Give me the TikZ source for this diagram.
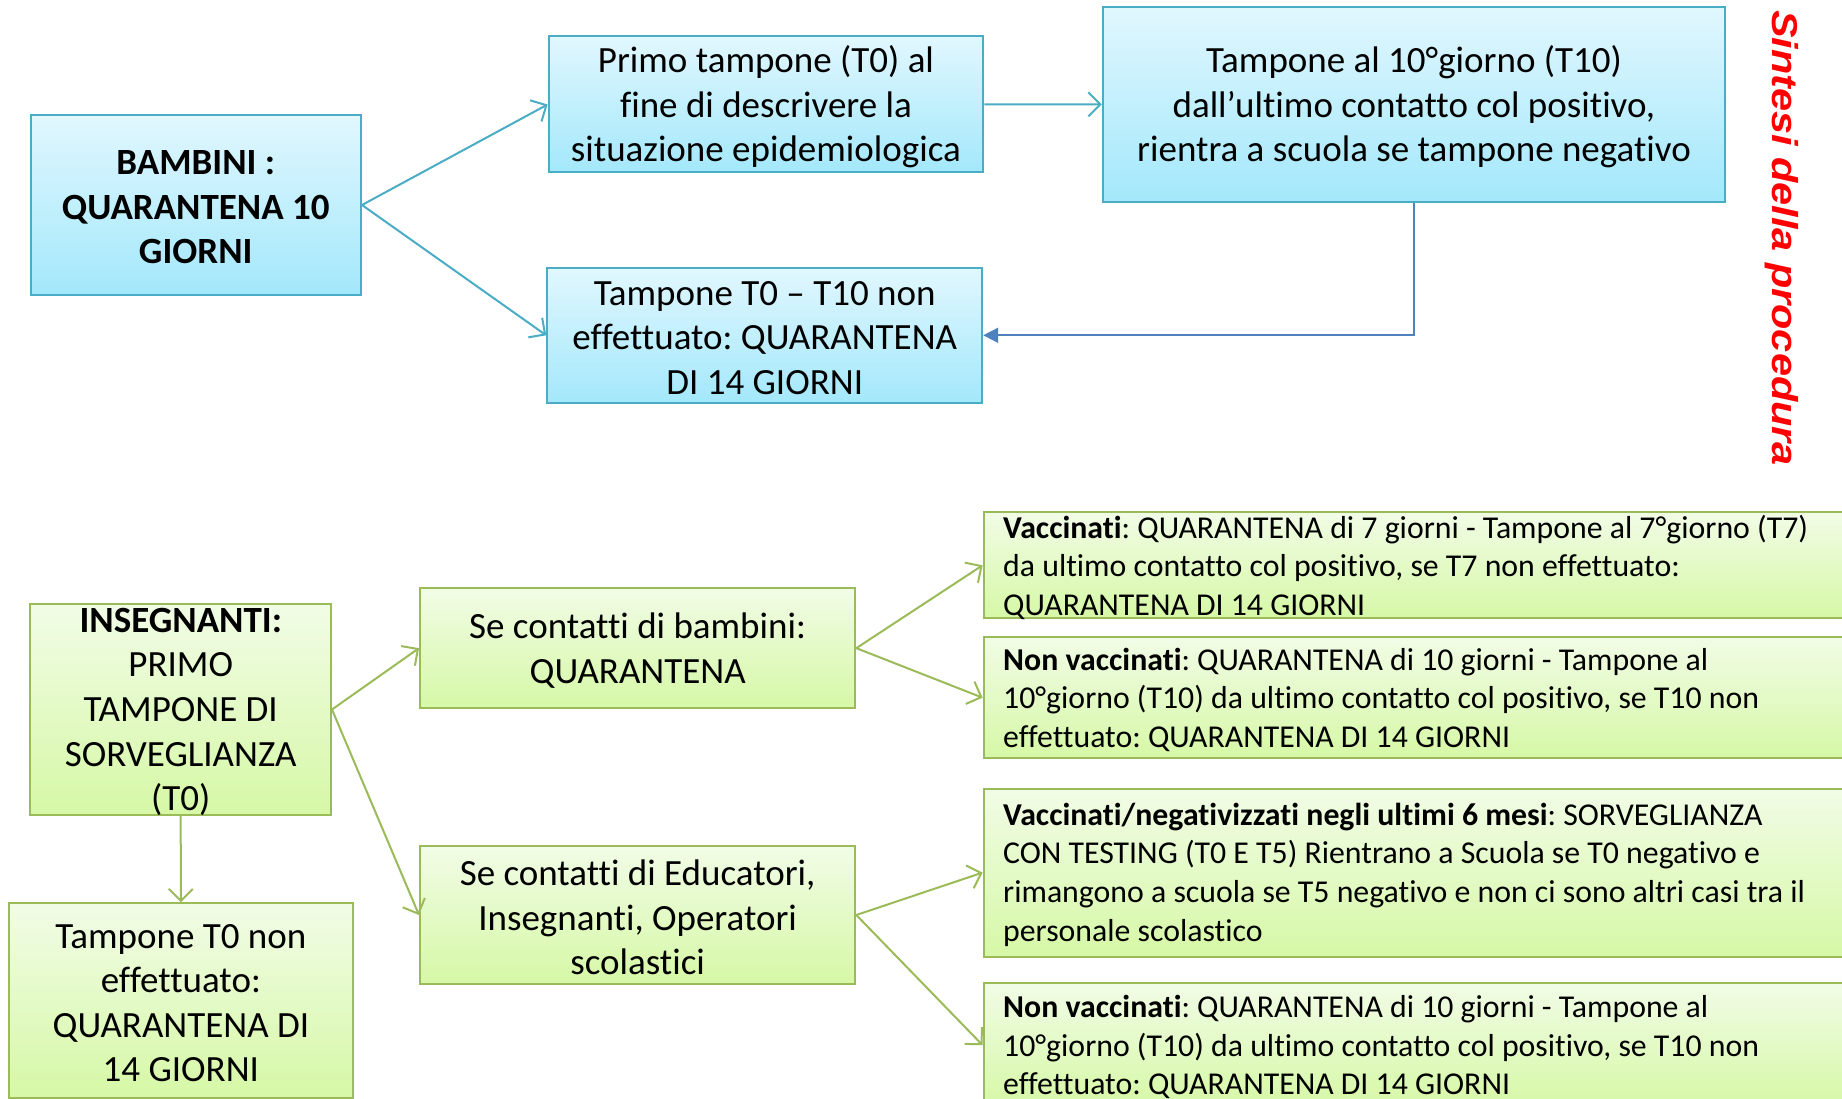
\documentclass[tikz,border=0pt]{standalone}
\usepackage{fontspec}
\setmainfont{Carlito}[Ligatures={NoCommon}]
\newfontfamily\sintfont{Liberation Sans}
\usetikzlibrary{arrows.meta}
\definecolor{bluetop}{HTML}{E1F7FE}
\definecolor{bluebot}{HTML}{A3E8FB}
\definecolor{bborder}{HTML}{4BACC6}
\definecolor{greentop}{HTML}{F1FCE6}
\definecolor{greenbot}{HTML}{D6F8A6}
\definecolor{gborder}{HTML}{9BBB59}
\definecolor{elbowc}{HTML}{4F81BD}
\frenchspacing
\begin{document}
\begin{tikzpicture}[x=1pt,y=-1pt,
  bluebox/.style={draw=bborder,line width=2pt,top color=bluetop,bottom color=bluebot,inner sep=0pt},
  greenbox/.style={draw=gborder,line width=2pt,top color=greentop,bottom color=greenbot,inner sep=0pt},
  ctxt/.style={align=center,inner sep=0pt,yshift=-2.5pt,font=\frenchspacing\fontsize{37}{44.6}\selectfont},
  cbtxt/.style={align=center,inner sep=0pt,yshift=-2.5pt,font=\frenchspacing\fontsize{37}{44.6}\selectfont\bfseries},
  rtxt/.style={align=left,inner sep=0pt,anchor=west,yshift=-2pt,font=\frenchspacing\fontsize{31.8}{38.7}\selectfont},
  barrow/.style={draw=bborder,line width=2pt,-{Straight Barb[length=12pt,width=24pt]}},
  garrow/.style={draw=gborder,line width=2pt,-{Straight Barb[length=12pt,width=24pt]}},
  elbow/.style={draw=elbowc,line width=1.6pt,-{Triangle[length=15pt,width=15pt]}}
]
\useasboundingbox (0,0) rectangle (1842,1099);

% ---- top (blue) part ----
\node[bluebox,minimum width=330.5pt,minimum height=180pt] (bam) at (195.75,205) {};
\node[cbtxt] (bamT) at (bam.center) {BAMBINI :\\QUARANTENA 10\\GIORNI};

\node[bluebox,minimum width=434.7pt,minimum height=136pt] (primo) at (765.95,104.5) {};
\node[ctxt] (primoT) at (primo.center) {Primo tampone (T0) al\\fine di descrivere la\\situazione epidemiologica};

\node[bluebox,minimum width=622.4pt,minimum height=195.3pt] (t10) at (1414,104.35) {};
\node[ctxt] (t10T) at (t10.center) {Tampone al 10°giorno (T10)\\dall’ultimo contatto col positivo,\\rientra a scuola se tampone negativo};

\node[bluebox,minimum width=435pt,minimum height=135pt] (t0t10) at (764.7,335.3) {};
\node[ctxt] (t0t10T) at (t0t10.center) {Tampone T0 – T10 non\\effettuato: QUARANTENA\\DI 14 GIORNI};

\draw[barrow] (bam.east) -- (primo.west);
\draw[barrow] (bam.east) -- (t0t10.west);
\draw[barrow] (primo.east) -- (t10.west);
\draw[elbow] (t10.south) |- (t0t10.east);

\node[rotate=-90,text=red,inner sep=0pt,font=\sintfont\fontsize{36}{40}\selectfont\bfseries\itshape] (sint) at (1782,238) {\scalebox{1.15}[1]{Sintesi della procedura}};

% ---- bottom (green) part ----
\node[greenbox,minimum width=300.6pt,minimum height=211pt] (ins) at (180.7,709.5) {};
\node[ctxt] (insT) at (ins.center) {\textbf{INSEGNANTI:}\\PRIMO\\TAMPONE DI\\SORVEGLIANZA\\(T0)};

\node[greenbox,minimum width=343.3pt,minimum height=194.7pt] (tnon) at (180.85,1000.65) {};
\node[ctxt] (tnonT) at (tnon.center) {Tampone T0 non\\effettuato:\\QUARANTENA DI\\14 GIORNI};

\node[greenbox,minimum width=435.3pt,minimum height=120.3pt] (bamb) at (637.65,648.15) {};
\node[ctxt] (bambT) at (bamb.center) {Se contatti di bambini:\\QUARANTENA};

\node[greenbox,minimum width=435.3pt,minimum height=138pt] (edu) at (637.65,915) {};
\node[ctxt] (eduT) at (edu.center) {Se contatti di Educatori,\\Insegnanti, Operatori\\scolastici};

\node[greenbox,minimum width=886.4pt,minimum height=105.8pt] (v1) at (1426.8,565.3) {};
\node[rtxt] (v1T) at ([xshift=20.4pt]v1.west) {\textbf{Vaccinati}: QUARANTENA di 7 giorni - Tampone al 7°giorno (T7)\\da ultimo contatto col positivo, se T7 non effettuato:\\QUARANTENA DI 14 GIORNI};

\node[greenbox,minimum width=886.4pt,minimum height=121.2pt] (nv1) at (1426.8,697.7) {};
\node[rtxt] (nv1T) at ([xshift=20.4pt]nv1.west) {\textbf{Non vaccinati}: QUARANTENA di 10 giorni - Tampone al\\10°giorno (T10) da ultimo contatto col positivo, se T10 non\\effettuato: QUARANTENA DI 14 GIORNI};

\node[greenbox,minimum width=886.4pt,minimum height=167.8pt] (v2) at (1426.8,872.6) {};
\node[rtxt] (v2T) at ([xshift=20.4pt]v2.west) {\textbf{Vaccinati/negativizzati negli ultimi 6 mesi}: SORVEGLIANZA\\CON TESTING (T0 E T5) Rientrano a Scuola se T0 negativo e\\rimangono a scuola se T5 negativo e non ci sono altri casi tra il\\personale scolastico};

\node[greenbox,minimum width=886.4pt,minimum height=123.6pt] (nv2) at (1426.8,1045.2) {};
\node[rtxt] (nv2T) at ([xshift=20.4pt]nv2.west) {\textbf{Non vaccinati}: QUARANTENA di 10 giorni - Tampone al\\10°giorno (T10) da ultimo contatto col positivo, se T10 non\\effettuato: QUARANTENA DI 14 GIORNI};

\draw[garrow] (ins.east) -- (bamb.west);
\draw[garrow] (ins.east) -- (edu.west);
\draw[garrow] (ins.south) -- (tnon.north);
\draw[garrow] (bamb.east) -- (v1.west);
\draw[garrow] (bamb.east) -- (nv1.west);
\draw[garrow] (edu.east) -- (v2.west);
\draw[garrow] (edu.east) -- (nv2.west);
\end{tikzpicture}
\end{document}
